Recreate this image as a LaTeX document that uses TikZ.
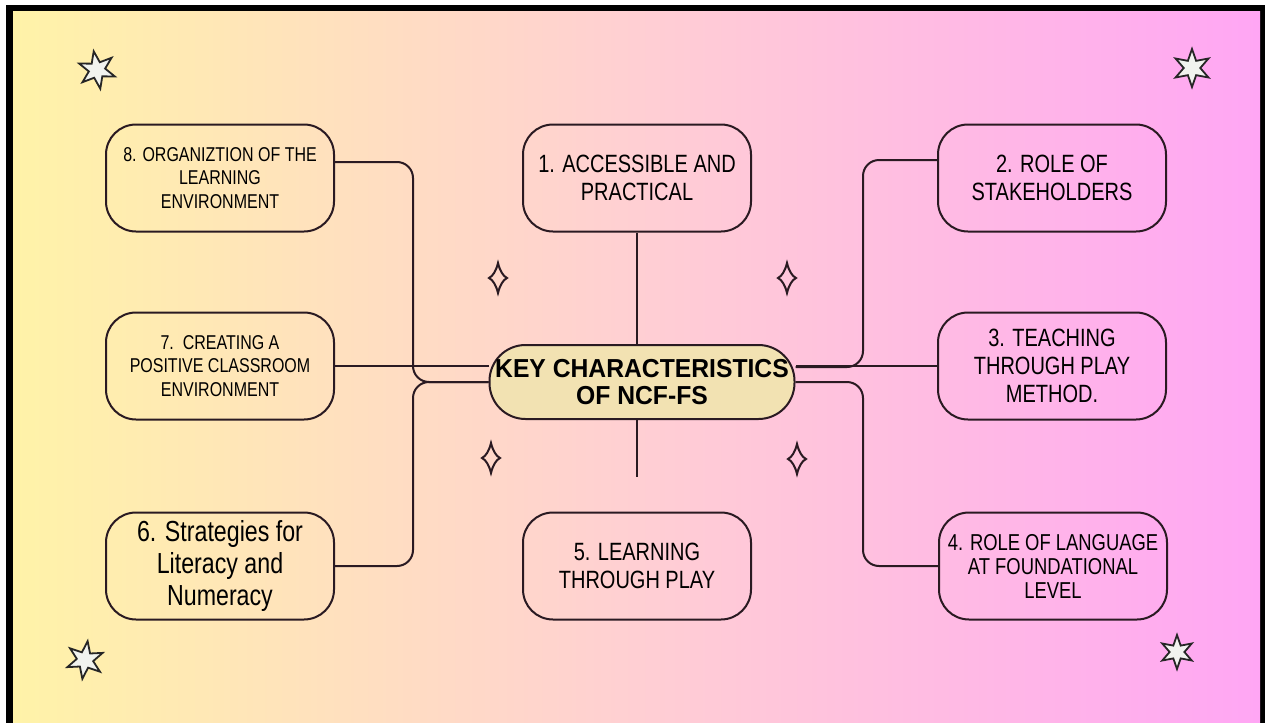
\documentclass[tikz,border=0pt]{standalone}
\usepackage{fontspec}
\setmainfont{Liberation Sans}
\newfontfamily\topicfont[FakeStretch=0.8]{Liberation Sans}
\newfontfamily\hubfont[FakeStretch=0.95]{Liberation Sans}
\usetikzlibrary{shapes.geometric}
\definecolor{bgyellow}{HTML}{FFF3A8}
\definecolor{bgpink}{HTML}{FFCFD3}
\definecolor{bgmagenta}{HTML}{FFA6F4}
\definecolor{hubfill}{HTML}{F2E2B2}
\definecolor{inkline}{HTML}{2A1A22}
\definecolor{starfill}{HTML}{F1F3EF}

\begin{document}
\begin{tikzpicture}[
    x=0.5pt, y=-0.5pt,
    topic/.style={draw=inkline, line width=1pt, rounded corners=15pt, minimum width=114pt, minimum height=53.5pt, align=center, inner sep=2pt},
    bigcaps/.style={font=\topicfont\fontsize{12.5}{14}\selectfont},
    midcaps/.style={font=\topicfont\fontsize{11.5}{12}\selectfont},
    smallcaps/.style={font=\topicfont\fontsize{10}{11.75}\selectfont},
    plaintext/.style={font=\topicfont\fontsize{14.5}{16}\selectfont},
    hub/.style={draw=inkline, line width=1pt, fill=hubfill, rounded corners=18pt, minimum width=152.5pt, minimum height=37pt, align=center, inner sep=0pt, font=\hubfont\bfseries\fontsize{13}{13.5}\selectfont},
    link/.style={draw=inkline, line width=1pt, rounded corners=8pt},
    twinkle/.style={star, star points=6, star point ratio=2.3, minimum size=19pt, inner sep=0pt, draw=black!85, line width=0.9pt, fill=starfill},
    sparkle/.pic={\draw[inkline, line width=1pt] (0,-15) .. controls (2,-7) and (5,-2) .. (9,0) .. controls (5,2) and (2,7) .. (0,15) .. controls (-2,7) and (-5,2) .. (-9,0) .. controls (-5,-2) and (-2,-7) .. (0,-15) -- cycle;},
]
  % frame and background
  \fill[white] (0,0) rectangle (1265,723);
  \fill[black] (6,5) rectangle (1265,723);
  \shade[left color=bgyellow, right color=bgmagenta, middle color=bgpink] (13,11) rectangle (1260,723);

  % topics
  \node [topic, smallcaps] (n8) at (220,178) {8. ORGANIZTION OF THE\\LEARNING\\ENVIRONMENT};
  \node [topic, smallcaps] (n7) at (220,366) {7.\ \ CREATING A\\POSITIVE CLASSROOM\\ENVIRONMENT};
  \node [topic, plaintext] (n6) at (220,566) {6. Strategies for\\Literacy and\\Numeracy};
  \node [topic, bigcaps]   (n1) at (637,178) {1. ACCESSIBLE AND\\PRACTICAL};
  \node [topic, bigcaps]   (n5) at (637,566) {5. LEARNING\\THROUGH PLAY};
  \node [topic, bigcaps]   (n2) at (1052,178) {2. ROLE OF\\STAKEHOLDERS};
  \node [topic, bigcaps]   (n3) at (1052,366) {3. TEACHING\\THROUGH PLAY\\METHOD.};
  \node [topic, midcaps]   (n4) at (1053,566) {4. ROLE OF LANGUAGE\\AT FOUNDATIONAL\\LEVEL};

  \node [hub] (core) at (642,382) {KEY CHARACTERISTICS\\OF NCF-FS};

  \coordinate (lbend)  at (413,382);
  \coordinate (rtop)   at (863,367);
  \coordinate (rbot)   at (863,382);
  \coordinate (n5stub) at (637,477);

  % connectors
  \draw [link] ([yshift=8pt]n8.east) -| (lbend) -- (core.west);
  \draw [link] (n6.east) -| (lbend) -- (core.west);
  \draw [link] (n7.east) -- (n7.east -| core.west);
  \draw [link] ([yshift=9pt]n2.west) -| (rtop) -- (rtop -| core.east);
  \draw [link] (n3.west) -- (n3.west -| core.east);
  \draw [link] (n4.west) -| (rbot) -- (core.east);
  \draw [link] (n1.south) -- (n1.south |- core.north);
  \draw [link] (core.south -| n5stub) -- (n5stub);

  % decorations
  \node [twinkle, shape border rotate=10] (s1) at (97,70) {};
  \node [twinkle] (s2) at (1192,68) {};
  \node [twinkle, shape border rotate=-8] (s3) at (85,660) {};
  \node [twinkle, minimum size=17pt] (s4) at (1177,652) {};
  \pic at (498,278) {sparkle};
  \pic at (787,278) {sparkle};
  \pic at (491,458) {sparkle};
  \pic at (797,459) {sparkle};
\end{tikzpicture}
\end{document}
